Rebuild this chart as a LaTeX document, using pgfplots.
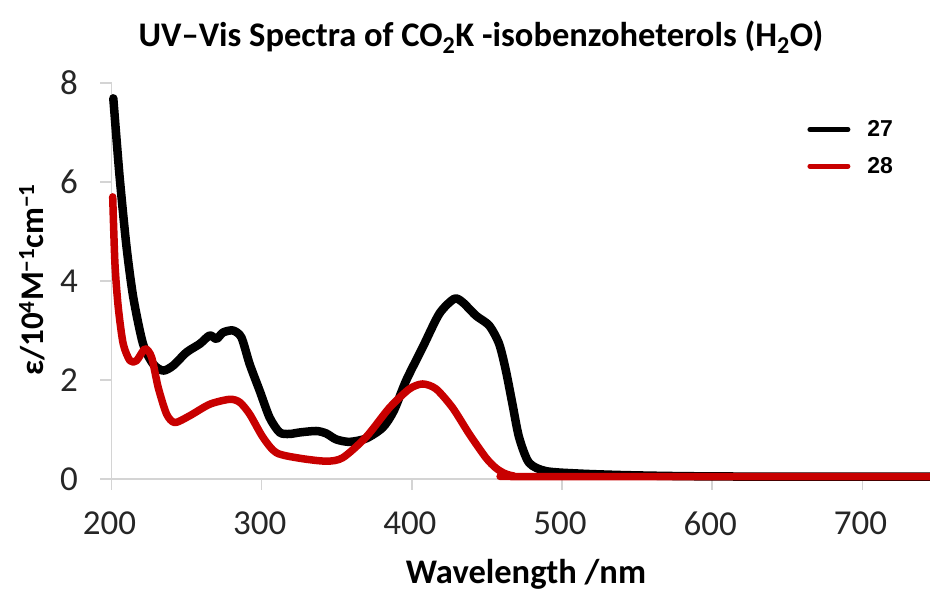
\documentclass[border=0pt]{standalone}
\usepackage{pgfplots}
\pgfplotsset{compat=1.18}
\usepackage{fontspec}
\setmainfont{Carlito}
\newfontfamily\legfont{Liberation Sans}
\definecolor{specred}{RGB}{200,0,0}
\definecolor{axgray}{RGB}{212,212,212}
\begin{document}
\begin{tikzpicture}[x=1pt,y=1pt]
\useasboundingbox (0,0) rectangle (930,592);
\begin{axis}[
  at={(111.5pt,113pt)}, anchor=south west,
  scale only axis, width=818.5pt, height=396pt,
  xmin=200, xmax=745, ymin=0, ymax=8,
  axis x line*=bottom, axis y line*=left,
  xtick={200,300,...,700}, ytick={0,2,...,8},
  tick align=outside, major tick length=11pt,
  axis line style={axgray, line width=1.5pt},
  tick style={axgray, line width=1.5pt},
  /pgf/number format/assume math mode=true,
  tick label style={font=\fontsize{35}{38}\selectfont, text=black!85},
  xticklabel style={yshift=-18pt, xshift=-2pt},
  yticklabel style={xshift=-19pt},
  clip=false,
  legend style={at={(rel axis cs:0.850,0.91)}, anchor=north west,
    draw=none, fill=none, inner sep=0pt,
    font=\legfont\bfseries\fontsize{23}{27}\selectfont,
    row sep=15pt, nodes={inner xsep=17pt}},
  legend cell align=left,
  legend image code/.code={\draw[#1, line width=5pt] (0pt,0pt) -- (38pt,0pt);},
]
% compound 27
\addplot[black, line width=8.5pt, line join=round, line cap=round, smooth, tension=0.45] coordinates {
(201.2,7.69) (203,7.0) (205.6,6.04) (210,4.69) (214.5,3.67) (221,2.73)
(227.8,2.32) (234.4,2.19) (241,2.29) (250,2.56) (258.8,2.73) (265.4,2.90)
(269.9,2.83) (274.3,2.96) (280.9,3.00) (286.5,2.86) (292,2.32) (298.7,1.78)
(305.3,1.24) (312,0.94) (318.6,0.91) (325.2,0.94) (336.3,0.97) (343,0.92)
(349.6,0.80) (358.5,0.75) (369.6,0.82) (380.6,1.04) (388,1.38) (396.2,1.99)
(407.2,2.66) (418.3,3.34) (428.2,3.64) (433.8,3.57) (442.7,3.30) (451.5,3.10)
(458.1,2.73) (462.6,2.19) (467,1.51) (471.4,0.84) (478,0.33) (489.2,0.16)
(511.3,0.11) (540,0.08) (575,0.06) (620,0.05) (745,0.05)};
\addlegendentry{27}
% compound 28
\addplot[specred, line width=7.5pt, line join=round, line cap=round, smooth, tension=0.45] coordinates {
(200.8,5.70) (202.3,4.35) (204.5,3.47) (207.8,2.73) (212.3,2.39) (216.7,2.39)
(222.3,2.63) (226.7,2.46) (231.1,1.85) (236.7,1.31) (242.2,1.14) (252.2,1.28)
(265.4,1.51) (278.7,1.61) (285.4,1.55) (292,1.31) (300.9,0.84) (309.8,0.53)
(325.2,0.42) (343,0.36) (354,0.43) (369.6,0.85) (385.1,1.44) (398.4,1.82)
(407.2,1.92) (416.1,1.82) (427.1,1.44) (438.2,0.91) (449.3,0.43) (456,0.22)
(462,0.11) (468,0.06) (476,0.05) (745,0.05)};
\addlegendentry{28}
\end{axis}
\node[font=\bfseries\fontsize{34.5}{38}\selectfont] at (481,555)
  {UV–Vis Spectra of CO\textsubscript{2}K -isobenzoheterols (H\textsubscript{2}O)};
\node[font=\bfseries\fontsize{34.5}{38}\selectfont] at (526,18) {Wavelength /nm};
\node[font=\bfseries\fontsize{33}{36}\selectfont, rotate=90] at (32,312)
  {ε/10\textsuperscript{4}M\textsuperscript{−1}cm\textsuperscript{−1}};
\end{tikzpicture}
\end{document}
